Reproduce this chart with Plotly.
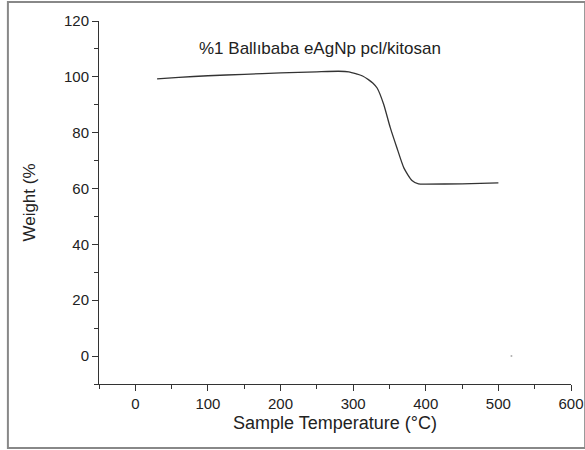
import plotly.graph_objects as go

# TGA curve
temperature = [30, 60, 100, 150, 200, 250, 280, 294, 305, 313, 321, 327, 333,
               342, 351, 360, 370, 381, 390, 400, 450, 500]
weight = [99.3, 99.8, 100.4, 100.9, 101.4, 101.8, 102.0, 101.8, 101.0, 100.3,
          99.0, 97.8, 96.0, 90.2, 81.9, 74.8, 67.3, 62.9, 61.7, 61.6, 61.7, 62.0]

# stray point near the x axis
stray_t = [518]
stray_w = [0]

title_text = "%1 Ballıbaba eAgNp pcl/kitosan"
x_title = "Sample Temperature (°C)"
y_title = "Weight (%"
font = "Liberation Sans, Arial, sans-serif"

fig = go.Figure()
fig.add_trace(go.Scatter(x=temperature, y=weight, mode="lines",
                         line=dict(color="#333333", width=1.3,
                                   shape="spline", smoothing=0.6)))
fig.add_trace(go.Scatter(x=stray_t, y=stray_w, mode="markers",
                         marker=dict(color="#b0b0b0", size=2)))

fig.add_annotation(x=255, y=110, text=title_text, showarrow=False,
                   font=dict(family=font, size=17, color="#222222"))
# x axis title placed by hand
fig.add_annotation(x=0.5, y=-0.108, xref="paper", yref="paper",
                   text=x_title, showarrow=False, yanchor="middle",
                   font=dict(family=font, size=18, color="#222222"))

# grey frame round the whole picture
fig.add_shape(type="rect", xref="paper", yref="paper",
              x0=-0.193, x1=1.03, y0=-0.176, y1=1.052,
              line=dict(color="#888888", width=2))

axis_common = dict(showline=True, linecolor="#333333", linewidth=1,
                   ticks="outside", ticklen=6, tickcolor="#333333",
                   showgrid=False, zeroline=False, mirror=False,
                   automargin=False,
                   tickfont=dict(family=font, size=15, color="#222222"))

fig.update_xaxes(range=[-50, 600], tick0=0, dtick=100,
                 minor=dict(ticks="outside", ticklen=4, dtick=50,
                            tickcolor="#333333"),
                 **axis_common)
fig.update_yaxes(range=[-10, 120], tick0=0, dtick=20,
                 minor=dict(ticks="outside", ticklen=4, dtick=10,
                            tickcolor="#333333"),
                 title=dict(text=y_title, standoff=24,
                            font=dict(family=font, size=17, color="#222222")),
                 **axis_common)

fig.update_layout(width=585, height=450, showlegend=False,
                  plot_bgcolor="white", paper_bgcolor="white",
                  margin=dict(l=99, r=14, t=21, b=66))

fig.write_html("out.html", config={"displayModeBar": False},
               post_script="document.body.style.margin='0';")
